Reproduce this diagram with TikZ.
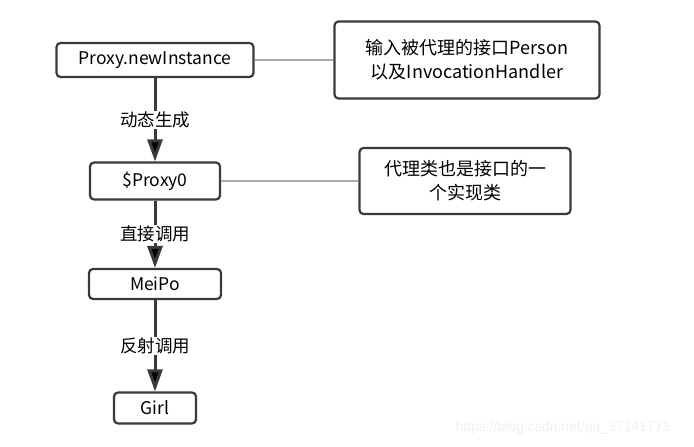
\documentclass[tikz,border=0pt]{standalone}
\usepackage{fontspec}
\setmainfont{Noto Sans CJK SC}
\newfontfamily\markfont{Liberation Sans}
\usetikzlibrary{positioning, arrows.meta}
\definecolor{boxline}{HTML}{3A3A3A}
\definecolor{linkgray}{HTML}{ABABAB}
\definecolor{markgray}{HTML}{F0F0F0}

\begin{document}
\begin{tikzpicture}
	[x=1pt, y=1pt, on grid, node distance=121pt,
	 block/.style={draw=boxline, line width=2.2pt, rounded corners=4pt, inner sep=0pt,
	   font=\fontsize{17.5}{23}\selectfont},
	 note/.style={block, align=center, font=\fontsize{18}{24}\selectfont},
	 edgetext/.style={fill=white, inner sep=1pt, font=\fontsize{17.5}{20}\selectfont},
	 flow/.style={draw=boxline, line width=3pt, -{Triangle[length=22pt,width=15pt]}},
	 link/.style={draw=linkgray, line width=2pt}]
   \useasboundingbox (0,0) rectangle (694,447);
   \node[block, minimum width=197pt, minimum height=34pt] (pni) at (155,387) {Proxy.newInstance};
   \node[block, minimum width=130pt, minimum height=37pt] (p0) [below=of pni] {\$Proxy0};
   \node[block, minimum width=132pt, minimum height=30pt] (meipo) [below=103pt of p0] {MeiPo};
   \node[block, minimum width=82pt, minimum height=31pt] (girl) [below=124pt of meipo] {Girl};
   \node[note, minimum width=265pt, minimum height=77pt] (inputnote) [right=312pt of pni]
      {输入被代理的接口Person\\以及InvocationHandler};
   \node[note, minimum width=211pt, minimum height=66pt] (classnote) [right=310pt of p0]
      {代理类也是接口的一\\个实现类};

   \path[flow]
   (pni)
        edge node[edgetext] {动态生成} (p0)
   (p0)
        edge node[edgetext] {直接调用} (meipo)
   (meipo)
        edge node[edgetext] {反射调用} (girl);

   \path[link]
   (pni) edge (inputnote)
   (p0) edge (classnote);

   % watermark
   \node[text=markgray, font=\markfont\fontsize{14}{16}\selectfont] (mark) at (563,19)
      {https://blog.csdn.net/qq\_37141773};
\end{tikzpicture}
\end{document}
